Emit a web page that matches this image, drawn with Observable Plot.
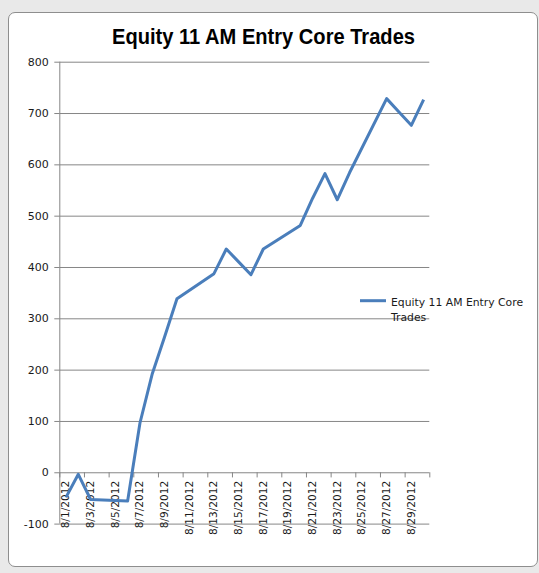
<!DOCTYPE html>
<html>
<head>
<meta charset="utf-8">
<script src="https://cdn.jsdelivr.net/npm/d3@7"></script>
<script src="https://cdn.jsdelivr.net/npm/@observablehq/plot@0.6"></script>
<style>
  html, body { margin: 0; padding: 0; background: #e9e9e9; }
  #wrap { position: relative; width: 539px; height: 573px; overflow: hidden; }
  #frame { position: absolute; left: 8px; top: 12px; width: 528px; height: 553px;
           border: 1px solid #8e8e8e; border-radius: 7px; background: #fff; }
  #chart { position: absolute; left: 0; top: 0; }
  .overlay { position: absolute; left: 0; top: 0; pointer-events: none; }
</style>
</head>
<body>
<div id="wrap">
  <div id="frame"></div>
  <div id="chart"></div>
</div>
<script>
const chartTitle = "Equity 11 AM Entry Core Trades";
const seriesName = ["Equity 11 AM Entry Core", "Trades"];

const dates = ["2012-08-01","2012-08-02","2012-08-03","2012-08-06","2012-08-07","2012-08-08",
  "2012-08-09","2012-08-10","2012-08-13","2012-08-14","2012-08-15","2012-08-16","2012-08-17",
  "2012-08-20","2012-08-21","2012-08-22","2012-08-23","2012-08-24","2012-08-27","2012-08-28",
  "2012-08-29","2012-08-30"];
const equity = [-48, -3, -52, -55, 97, 193, 265, 339, 388, 436, 411, 386, 436,
  482, 535, 583, 532, 585, 729, 703, 677, 727];

const yTicks = [-100, 0, 100, 200, 300, 400, 500, 600, 700, 800];
const xTickLabels = ["8/1/2012","8/3/2012","8/5/2012","8/7/2012","8/9/2012","8/11/2012",
  "8/13/2012","8/15/2012","8/17/2012","8/19/2012","8/21/2012","8/23/2012","8/25/2012",
  "8/27/2012","8/29/2012"];
const xDomain = ["2012-08-01", "2012-08-31"];

const DAY = 864e5;
const day = s => new Date(s + "T00:00:00Z");
const noon = s => new Date(day(s).getTime() + DAY / 2);
const parseLabel = l => { const [m, d, y] = l.split("/"); return `${y}-${m.padStart(2,"0")}-${d.padStart(2,"0")}`; };

const data = dates.map((d, i) => ({date: noon(d), value: equity[i]}));
const labels = xTickLabels.map(l => ({date: noon(parseLabel(l)), text: l}));
// tick marks at day boundaries every 2 days
const tickMarks = xTickLabels.map(l => day(parseLabel(l))).concat([day(xDomain[1])]);

const gridColor = "#868686";
const lineColor = "#4a7ebb";
const textColor = "#1a1a1a";

const plot = Plot.plot({
  width: 539,
  height: 573,
  marginLeft: 59.3,
  marginRight: 109.7,
  marginTop: 61.7,
  marginBottom: 49.4,
  style: {background: "transparent", fontFamily: "DejaVu Sans", fontSize: "11px", color: "#000"},
  x: {type: "utc", domain: xDomain.map(day), axis: null},
  y: {domain: [-100, 800], axis: null},
  marks: [
    Plot.ruleY(yTicks, {stroke: gridColor, strokeWidth: 1}),
    Plot.ruleX([day(xDomain[0])], {stroke: gridColor, strokeWidth: 1}),
    Plot.axisY({ticks: yTicks, tickSize: 5, tickPadding: 6, stroke: gridColor, fill: textColor,
      tickFormat: d => String(d), label: null, fontSize: 11}),
    Plot.ruleX(tickMarks, {x: d => d, y1: 0, y2: -10, stroke: gridColor, strokeWidth: 1}),
    Plot.text(labels, {x: "date", y: () => 0, text: "text", rotate: -90, textAnchor: "end",
      lineAnchor: "middle", dy: 8, fill: textColor, fontSize: 10.6}),
    Plot.line(data, {x: "date", y: "value", stroke: lineColor, strokeWidth: 3,
      strokeLinejoin: "round", strokeLinecap: "butt"})
  ]
});
document.getElementById("chart").appendChild(plot);

// Title and legend overlay
const ov = d3.select("#wrap").append("svg").attr("class", "overlay")
  .attr("width", 539).attr("height", 573);
ov.append("text")
  .attr("x", 112).attr("y", 43.5)
  .attr("textLength", 303).attr("lengthAdjust", "spacingAndGlyphs")
  .attr("font-family", "Liberation Sans").attr("font-weight", "bold").attr("font-size", 21.5)
  .attr("fill", "#000").text(chartTitle);

ov.append("line").attr("x1", 360).attr("x2", 386).attr("y1", 300.7).attr("y2", 300.7)
  .attr("stroke", lineColor).attr("stroke-width", 3);
seriesName.forEach((t, i) => {
  ov.append("text").attr("x", 391).attr("y", 306.3 + i * 15)
    .attr("font-family", "DejaVu Sans").attr("font-size", 10.8).attr("fill", textColor).text(t);
});
</script>
</body>
</html>
